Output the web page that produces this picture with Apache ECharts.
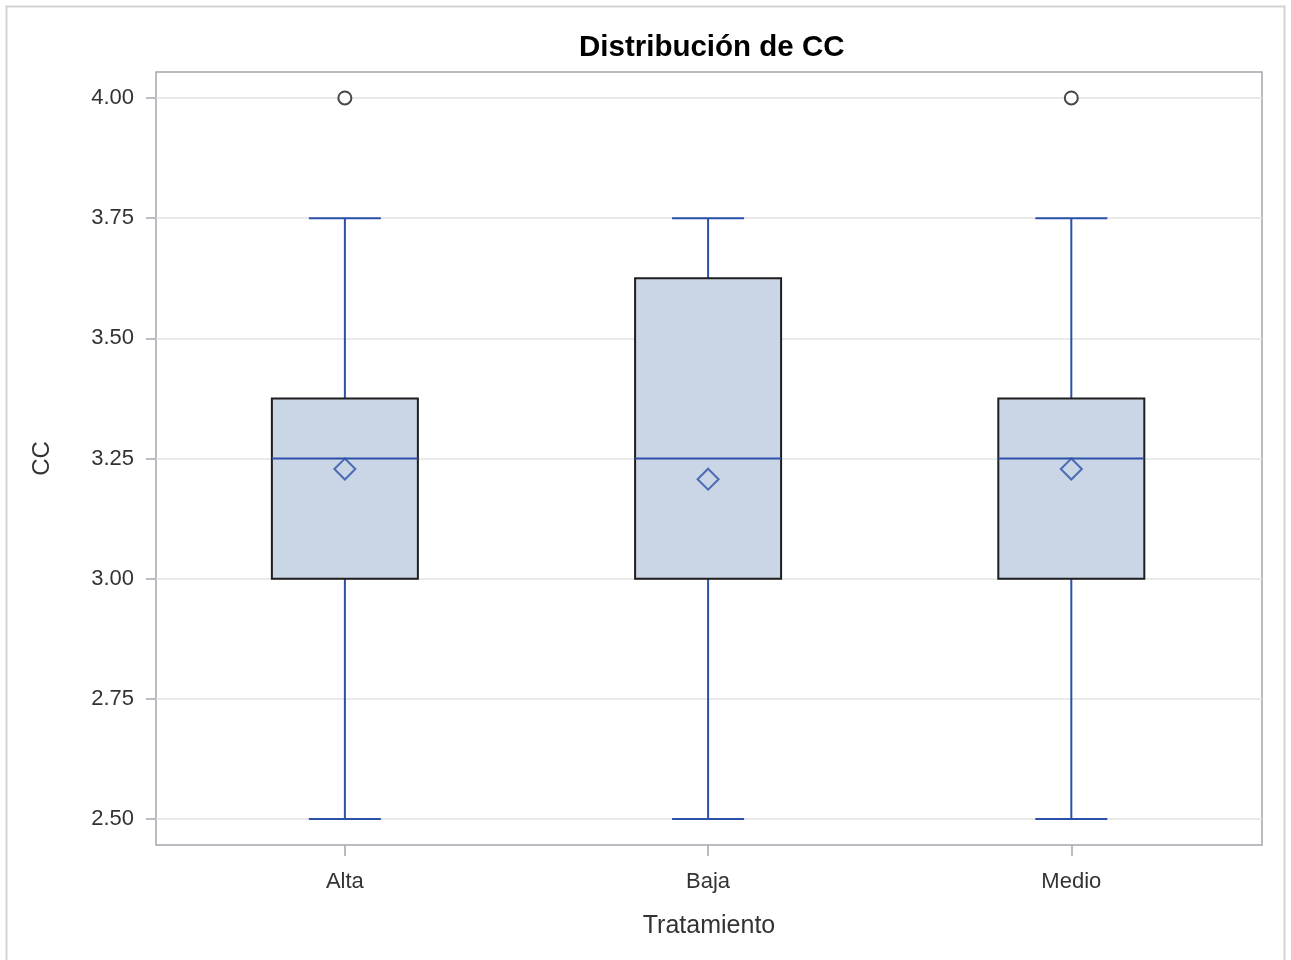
<!DOCTYPE html>
<html>
<head>
<meta charset="utf-8">
<script src="https://cdn.jsdelivr.net/npm/echarts@6/dist/echarts.min.js"></script>
<style>html,body{margin:0;padding:0;background:#fff}#c{width:1291px;height:960px}</style>
</head>
<body>
<div id="c"></div>
<script>
const categories = ['Alta', 'Baja', 'Medio'];
const minVals    = [2.5, 2.5, 2.5];
const q1Vals     = [3.0, 3.0, 3.0];
const medianVals = [3.25, 3.25, 3.25];
const q3Vals     = [3.375, 3.625, 3.375];
const maxVals    = [3.75, 3.75, 3.75];
const meanVals   = [3.228, 3.207, 3.228];
const outliers   = [[0, 4.0], [2, 4.0]];
const yTicks     = [2.5, 2.75, 3.0, 3.25, 3.5, 3.75, 4.0];

const FONT = '"Liberation Sans", Arial, sans-serif';
const BLUE = '#2a50a8';
const FRAME = '#a3a8ad';

const boxData = categories.map((c, i) => [i, minVals[i], q1Vals[i], medianVals[i], q3Vals[i], maxVals[i]]);
const meanData = categories.map((c, i) => [i, meanVals[i]]);

function renderBox(params, api) {
  const x = api.value(0);
  const pMin = api.coord([x, api.value(1)]);
  const pQ1 = api.coord([x, api.value(2)]);
  const pMed = api.coord([x, api.value(3)]);
  const pQ3 = api.coord([x, api.value(4)]);
  const pMax = api.coord([x, api.value(5)]);
  const cx = pMin[0];
  const bw = 73, cw = 36;
  const lineStyle = { stroke: BLUE, lineWidth: 2, fill: null };
  return {
    type: 'group',
    children: [
      { type: 'line', shape: { x1: cx, y1: pQ3[1], x2: cx, y2: pMax[1] }, style: lineStyle },
      { type: 'line', shape: { x1: cx - cw, y1: pMax[1], x2: cx + cw, y2: pMax[1] }, style: lineStyle },
      { type: 'line', shape: { x1: cx, y1: pQ1[1], x2: cx, y2: pMin[1] }, style: lineStyle },
      { type: 'line', shape: { x1: cx - cw, y1: pMin[1], x2: cx + cw, y2: pMin[1] }, style: lineStyle },
      { type: 'rect', shape: { x: cx - bw, y: pQ3[1], width: 2 * bw, height: pQ1[1] - pQ3[1] },
        style: { fill: '#cad5e5', stroke: '#1e1e1e', lineWidth: 2 } },
      { type: 'line', shape: { x1: cx - bw, y1: pMed[1], x2: cx + bw, y2: pMed[1] }, style: lineStyle }
    ]
  };
}

const chart = echarts.init(document.getElementById('c'), null, { renderer: 'canvas' });
chart.setOption({
  backgroundColor: '#fff',
  animation: false,
  title: {
    text: 'Distribución de CC',
    left: 574, top: 28,
    textStyle: { fontFamily: FONT, fontSize: 29.5, fontWeight: 'bold', color: '#000' }
  },
  graphic: [{
    type: 'rect', left: 4, top: 4, silent: true,
    shape: { width: 1278, height: 970 },
    style: { fill: null, stroke: '#d3d3d3', lineWidth: 2 }
  }],
  grid: {
    left: 156, right: 29, top: 72, bottom: 115,
    show: true, borderColor: FRAME, borderWidth: 1.5, backgroundColor: 'transparent'
  },
  xAxis: {
    type: 'value', min: -0.52, max: 2.525,
    name: 'Tratamiento', nameLocation: 'middle', nameGap: 69,
    nameTextStyle: { fontFamily: FONT, fontSize: 25, color: '#333' },
    axisLine: { show: false, onZero: false },
    axisTick: { show: true, customValues: [0, 1, 2], length: 11, lineStyle: { color: FRAME, width: 1.5 } },
    axisLabel: { customValues: [0, 1, 2], formatter: v => categories[Math.round(v)], margin: 26,
      fontFamily: FONT, fontSize: 22, color: '#333' },
    splitLine: { show: false }
  },
  yAxis: {
    type: 'value', min: 2.446, max: 4.054,
    name: 'CC', nameLocation: 'middle', nameGap: 102,
    nameTextStyle: { fontFamily: FONT, fontSize: 24, color: '#333' },
    axisLine: { show: false, onZero: false },
    axisTick: { show: true, customValues: yTicks, length: 10, lineStyle: { color: FRAME, width: 1.5 } },
    axisLabel: { customValues: yTicks, formatter: v => v.toFixed(2), margin: 22,
      fontFamily: FONT, fontSize: 22, color: '#333', padding: [4, 0, 0, 0] },
    splitLine: { show: true, lineStyle: { color: '#e3e3e3', width: 1.5 } }
  },
  series: [
    { type: 'custom', renderItem: renderBox, data: boxData, z: 2, silent: true },
    { type: 'scatter', data: meanData, symbol: 'diamond', symbolSize: 21, z: 3, silent: true,
      itemStyle: { color: 'rgba(0,0,0,0)', borderColor: BLUE, borderWidth: 2 } },
    { type: 'scatter', data: outliers, symbol: 'circle', symbolSize: 13, z: 3, silent: true,
      itemStyle: { color: '#fff', borderColor: '#1a1a1a', borderWidth: 2 } }
  ]
});
</script>
</body>
</html>
